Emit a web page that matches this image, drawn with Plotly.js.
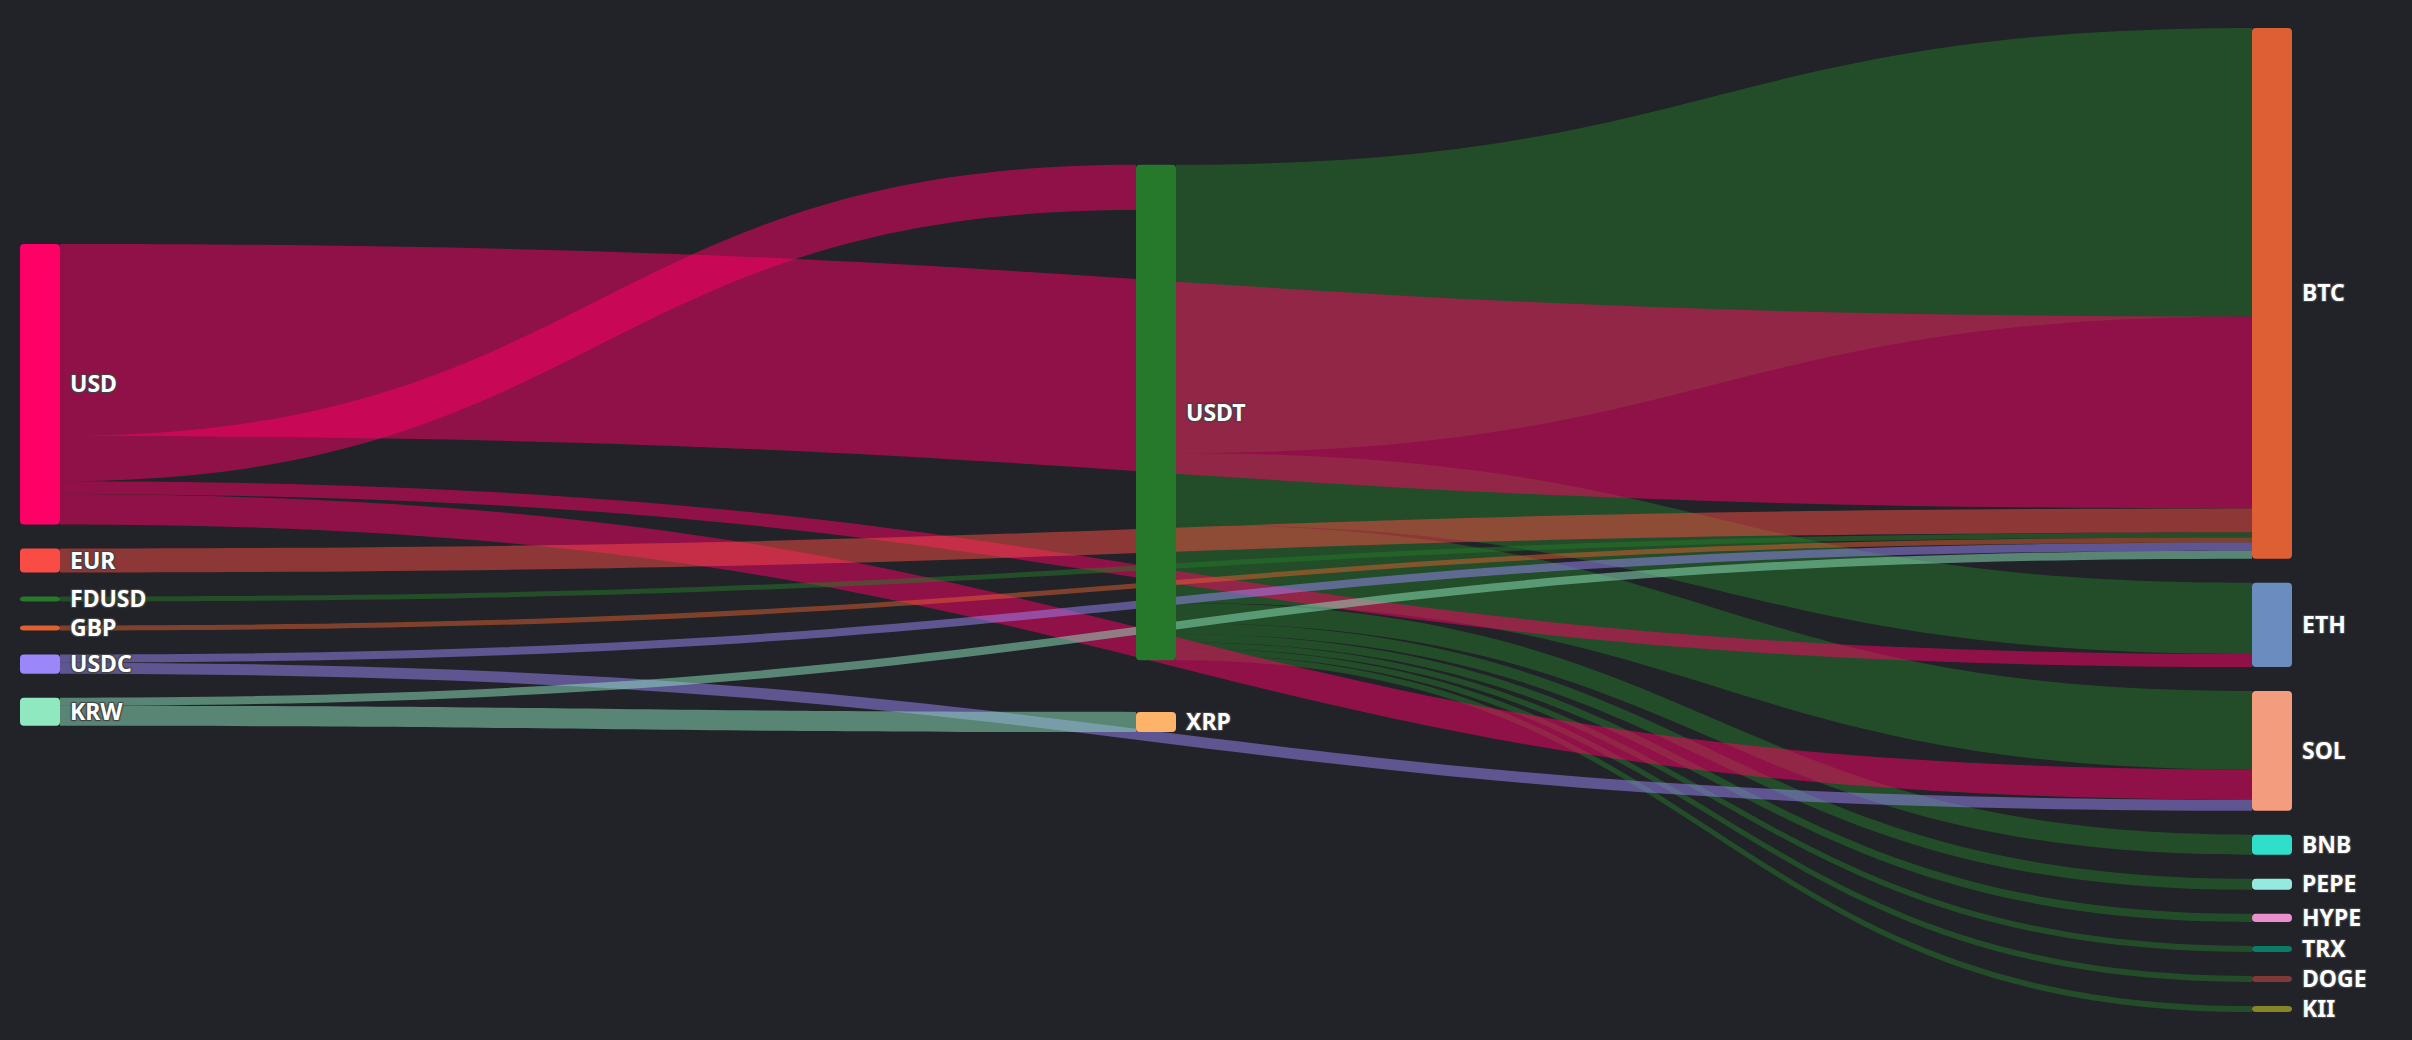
<!DOCTYPE html>
<html>
<head>
<meta charset="utf-8">
<script src="https://cdn.plot.ly/plotly-3.0.1.min.js"></script>
<style>
  html, body { margin: 0; padding: 0; background: #212328; }
  #chart { width: 2412px; height: 1040px; }
</style>
</head>
<body>
<div id="chart"></div>
<script>
// Nodes (currencies / assets)
const nodeLabels = ['USD','EUR','FDUSD','GBP','USDC','KRW','USDT','XRP','BTC','ETH','SOL','BNB','PEPE','HYPE','TRX','DOGE','KII'];
const nodeColors = ['#ff0066','#f94c45','#267a28','#e0602f','#9b87fa','#90e8c0','#26782a','#fdb46a',
                    '#df5f35','#6b8cbf','#f49d7e','#2fdfc9','#94eade','#e88fcc','#0b7b68','#7f3939','#868628'];

// Flows (source -> target, volume)
const linkSources = ['USDT','USDT','USDT','USDT','USDT','USDT','USDT','USDT','USDT',
                     'USD','USD','USD','USD','EUR','FDUSD','GBP','USDC','USDC','KRW','KRW'];
const linkTargets = ['BTC','ETH','SOL','BNB','PEPE','HYPE','TRX','DOGE','KII',
                     'BTC','USDT','ETH','SOL','BTC','BTC','BTC','BTC','SOL','BTC','XRP'];
const linkValues  = [287, 71, 78, 20, 11, 8, 6, 6, 6,
                     191, 45, 13, 30, 24, 5, 5, 8, 11, 8, 20];

function hexToRgba(hex, a) {
  const n = parseInt(hex.slice(1), 16);
  return 'rgba(' + ((n >> 16) & 255) + ',' + ((n >> 8) & 255) + ',' + (n & 255) + ',' + a + ')';
}

const src = linkSources.map(s => nodeLabels.indexOf(s));
const tgt = linkTargets.map(s => nodeLabels.indexOf(s));
const linkColors = src.map(i => hexToRgba(nodeColors[i], 0.5));

const data = [{
  type: 'sankey',
  orientation: 'h',
  arrangement: 'snap',
  hoverinfo: 'none',
  node: {
    label: nodeLabels,
    color: nodeColors,
    pad: 24,
    thickness: 40,
    align: 'left',
    line: { width: 0, color: 'rgba(0,0,0,0)' },
    hoverinfo: 'none'
  },
  link: {
    source: src,
    target: tgt,
    value: linkValues,
    color: linkColors,
    hoverinfo: 'none'
  },
  textfont: { family: 'Noto Sans, Open Sans, sans-serif', size: 23, color: '#ffffff', weight: 700 }
}];

const layout = {
  width: 2412,
  height: 1040,
  paper_bgcolor: '#212328',
  plot_bgcolor: '#212328',
  margin: { l: 20, r: 120, t: 28, b: 28 },
  font: { family: 'Noto Sans, Open Sans, sans-serif', color: '#ffffff' }
};

Plotly.newPlot('chart', data, layout, { displayModeBar: false }).then(() => {
  document.querySelectorAll('.sankey-node').forEach(g => {
    const rect = g.querySelector('.node-rect');
    if (!rect) return;
    rect.setAttribute('rx', 4);
    rect.setAttribute('ry', 4);
    const w = parseFloat(rect.getAttribute('width')) || 40;
    const t = g.querySelector('.node-label');
    if (!t) return;
    t.setAttribute('text-anchor', 'start');
    const tr = t.getAttribute('transform') || '';
    const m = tr.match(/translate\(\s*([-\d.e]+)[\s,]+([-\d.e]+)\s*\)/);
    if (m) t.setAttribute('transform', 'translate(' + (w + 10) + ',' + m[2] + ')');
  });
});
</script>
</body>
</html>
